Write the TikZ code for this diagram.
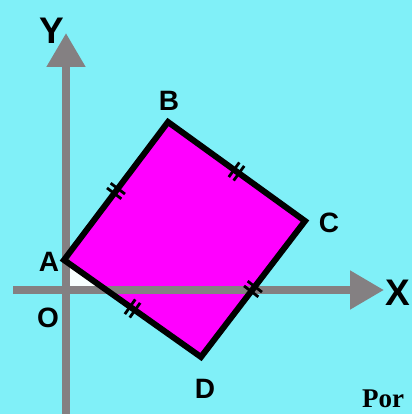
\documentclass[tikz,border=0pt]{standalone}
\usepackage{fontspec}
\setmainfont{Liberation Sans}
\newfontfamily\porfont{Liberation Serif}
\usetikzlibrary{positioning,calc,arrows.meta}
\definecolor{skyback}{RGB}{128,240,248}
\definecolor{axisgray}{RGB}{132,128,130}
\definecolor{squarefill}{RGB}{255,0,255}

\begin{document}
\begin{tikzpicture}[
  x=1pt, y=-1pt,
  axis/.style={draw=axisgray, line width=8pt,
               -{Triangle[length=34pt,width=37pt]}},
  side/.style={draw=black, line width=6pt, line join=miter},
  tickmark/.style={draw=black, line width=2.8pt},
  lbl/.style={font=\bfseries\fontsize{28}{28}\selectfont, inner sep=0pt},
  biglbl/.style={font=\bfseries\fontsize{37}{37}\selectfont, inner sep=0pt}
]
  \path[use as bounding box, fill=skyback] (0,0) rectangle (412,414);

  \coordinate (A) at (64,260);
  \coordinate (B) at (168,122);
  \coordinate (C) at (305,221);
  \coordinate (D) at (201,357);

  \fill[squarefill] (A) -- (B) -- (C) -- (D) -- cycle;
  \fill[white!94!skyback] (70,264) -- (70,286) -- (100,286) -- cycle;

  % axes
  \draw[axis] (13,290) -- (384,290);
  \draw[axis] (66,414) -- (66,33);

  \draw[side] (A) -- (B) -- (C) -- (D) -- cycle;

  % equal sides
  \foreach \p/\q in {A/B,B/C,C/D,D/A}{
    \coordinate (m) at ($(\p)!0.5!(\q)$);
    \foreach \s in {-3,3}{
      \coordinate (t) at ($(m)!\s pt!(\q)$);
      \draw[tickmark] ($(t)!9pt!90:(\q)$) -- ($(t)!9pt!-90:(\q)$);
    }
  }

  \node[biglbl] (ylbl) at (52,31)  {Y};
  \node[biglbl] (xlbl) at (398,293) {X};
  \node[lbl]    (albl) at (49,262) {A};
  \node[lbl]    (blbl) at (169,101) {B};
  \node[lbl]    (clbl) at (329,223) {C};
  \node[lbl]    (dlbl) at (205,389) {D};
  \node[lbl]    (olbl) at (48,318) {O};
  \node[anchor=base west, inner sep=0pt,
        font=\porfont\bfseries\fontsize{27}{27}\selectfont] (por) at (362,407) {Por};
\end{tikzpicture}
\end{document}
